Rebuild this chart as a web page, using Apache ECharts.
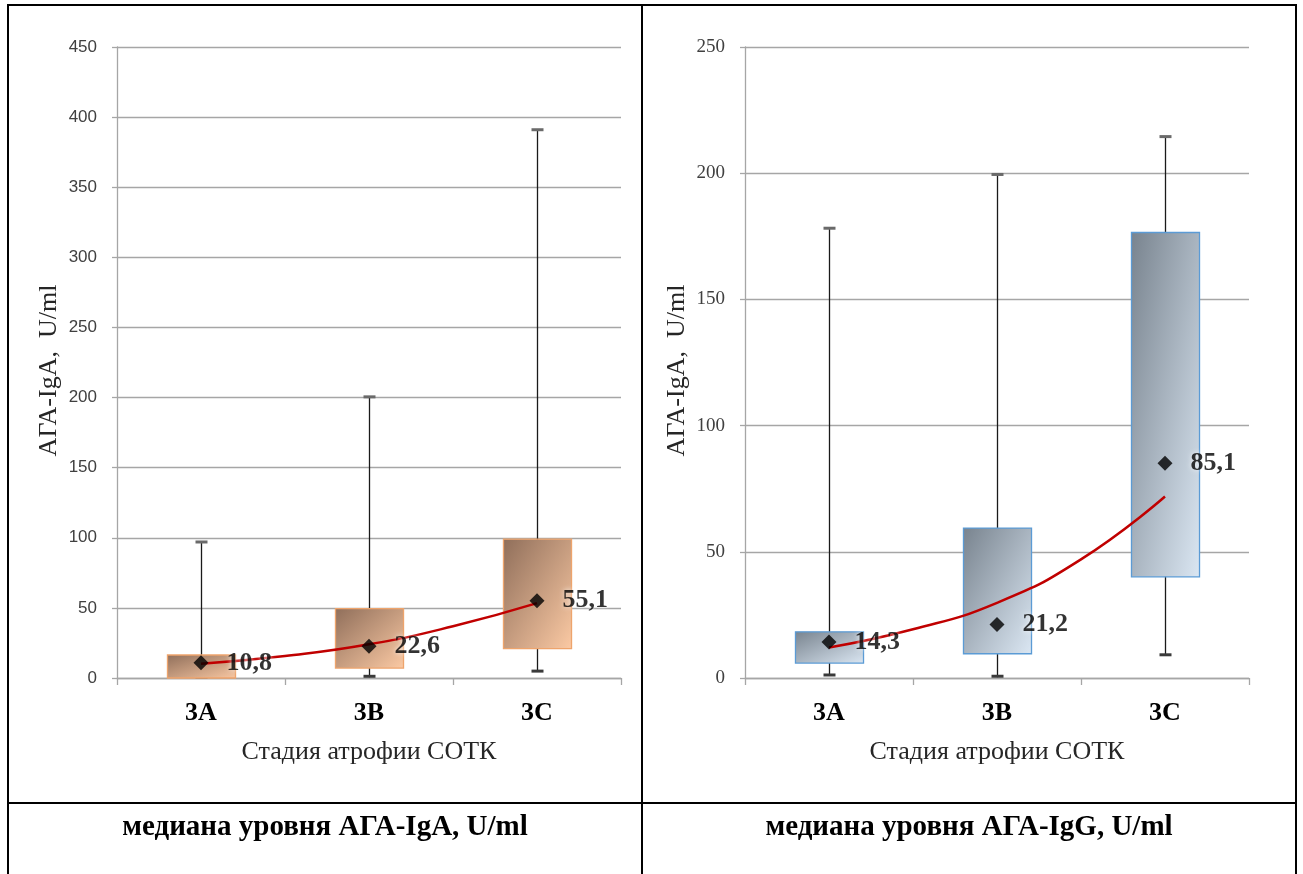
<!DOCTYPE html>
<html>
<head>
<meta charset="utf-8">
<script src="https://cdn.jsdelivr.net/npm/echarts@6/dist/echarts.min.js"></script>
<style>
  html, body { margin: 0; padding: 0; background: #fff; }
  #chart { width: 1303px; height: 874px; }
</style>
</head>
<body>
<div id="chart"></div>
<script>
// Stages of mucosal atrophy (x categories)
const stages = ['3A', '3B', '3C'];

// АГА-IgA panel: whisker ends, quartile box, median, trend curve
const igaMin    = [0,    0.5,   4.2];
const igaQ1     = [0,    7.1,   21.0];
const igaQ3     = [16.4, 49.5,  99.0];
const igaMax    = [97,   200.5, 391];
const igaMedian = [10.8, 22.6,  55.1];
const igaTrend  = [10.2, 15.7,  24.0, 36.9, 53.4];

// АГА-IgG panel
const iggMin    = [0.8,  0.3,   8.8];
const iggQ1     = [5.9,  9.6,   40.1];
const iggQ3     = [18.3, 59.4,  176.5];
const iggMax    = [178.2, 199.5, 214.5];
const iggMedian = [14.3, 21.2,  85.1];
const iggTrend  = [12.1, 19.3,  29.8, 47.0, 71.9];

// positions (in category units) where the trend curve is sampled
const trendPos = [0, 0.5, 1, 1.5, 2];

// value axis ranges
const igaAxis = { min: 0, max: 450, interval: 50 };
const iggAxis = { min: 0, max: 250, interval: 50 };

const captions = ['медиана уровня АГА-IgA, U/ml', 'медиана уровня АГА-IgG, U/ml'];
const xTitle = 'Стадия атрофии СОТК';
const yTitle = 'АГА-IgA,  U/ml';

const SERIF = '"Liberation Serif", "Times New Roman", serif';
const SANS = '"Liberation Sans", Arial, sans-serif';
const GRID_COLOR = '#a6a6a6';

function boxRows(mins, q1, q3, maxs) {
  return stages.map((_, i) => [i, mins[i], q1[i], q3[i], maxs[i]]);
}

// Diagonal fill that runs corner to corner in the box's own proportions
function diagonalFill(w, h, c0, c1) {
  const k = 2 / (h / w + w / h);
  return new echarts.graphic.LinearGradient(0, 0, k * h / w, k * w / h, [
    { offset: 0, color: c0 }, { offset: 1, color: c1 }
  ]);
}

function boxRenderer(c0, c1, stroke) {
  return function (params, api) {
    const i = api.value(0);
    const pMin = api.coord([i, api.value(1)]);
    const pQ1 = api.coord([i, api.value(2)]);
    const pQ3 = api.coord([i, api.value(3)]);
    const pMax = api.coord([i, api.value(4)]);
    const bw = api.size([1, 0])[0] * 0.405;
    const bh = Math.max(pQ1[1] - pQ3[1], 1);
    const cx = Math.round(pMin[0]) + 0.5;
    const cap = 12;
    return {
      type: 'group',
      children: [
        { type: 'line', shape: { x1: cx, y1: pMin[1], x2: cx, y2: pMax[1] },
          style: { stroke: '#1a1a1a', lineWidth: 1.3 } },
        { type: 'line', shape: { x1: cx - cap / 2, y1: pMax[1], x2: cx + cap / 2, y2: pMax[1] },
          style: { stroke: '#6a6a6a', lineWidth: 3 } },
        { type: 'line', shape: { x1: cx - cap / 2, y1: pMin[1] - 1, x2: cx + cap / 2, y2: pMin[1] - 1 },
          style: { stroke: '#3a3a3a', lineWidth: 3 } },
        { type: 'rect',
          shape: { x: cx - bw / 2, y: pQ3[1], width: bw, height: bh },
          style: { fill: diagonalFill(bw, bh, c0, c1), stroke: stroke, lineWidth: 1.3 } }
      ]
    };
  };
}

function catAxis(gridIndex) {
  return {
    type: 'category', gridIndex, data: stages, boundaryGap: true,
    axisLine: { onZero: false, lineStyle: { color: GRID_COLOR, width: 1.3 } },
    axisTick: { show: true, length: 7, lineStyle: { color: GRID_COLOR, width: 1.3 } },
    axisLabel: { fontFamily: SERIF, fontWeight: 'bold', fontSize: 26, color: '#000', margin: 22 },
    name: xTitle, nameLocation: 'middle', nameGap: 61,
    nameTextStyle: { fontFamily: SERIF, fontSize: 26, color: '#262626' }
  };
}

function trendAxis(gridIndex) {
  return { type: 'value', gridIndex, min: -0.5, max: 2.5, show: false };
}

function valAxis(gridIndex, range, labelFont, labelSize) {
  return {
    type: 'value', gridIndex, min: range.min, max: range.max, interval: range.interval,
    axisLine: { show: true, onZero: false, lineStyle: { color: GRID_COLOR, width: 1.3 } },
    axisTick: { show: true, length: 5, lineStyle: { color: GRID_COLOR, width: 1.3 } },
    splitLine: { lineStyle: { color: GRID_COLOR, width: 1.3 } },
    axisLabel: { fontFamily: labelFont, fontSize: labelSize, color: '#404040', margin: 20 },
    name: yTitle, nameLocation: 'middle', nameGap: 55, nameRotate: 90,
    nameTextStyle: { fontFamily: SERIF, fontSize: 26, color: '#262626', padding: [0, 16, 0, 0] }
  };
}

function medianSeries(xi, yi, values) {
  return {
    type: 'scatter', xAxisIndex: xi, yAxisIndex: yi, z: 5,
    data: values, symbol: 'diamond', symbolSize: 15,
    itemStyle: { color: '#000' },
    label: {
      show: true, position: 'right', distance: 18,
      formatter: p => String(p.value).replace('.', ','),
      fontFamily: SERIF, fontWeight: 'bold', fontSize: 26, color: '#000',
      textShadowColor: '#fff', textShadowBlur: 5
    }
  };
}

function trendSeries(xi, yi, values) {
  return {
    type: 'line', xAxisIndex: xi, yAxisIndex: yi, z: 4, smooth: true,
    data: trendPos.map((x, k) => [x, values[k]]),
    showSymbol: false, lineStyle: { color: '#c00000', width: 2.5 }
  };
}

const chart = echarts.init(document.getElementById('chart'), null, { renderer: 'canvas' });

const line = (x1, y1, x2, y2) => ({
  type: 'line', shape: { x1, y1, x2, y2 }, style: { stroke: '#000', lineWidth: 2 }, silent: true
});

chart.setOption({
  animation: false,
  backgroundColor: '#fff',
  grid: [
    { left: 117, top: 47, width: 504, height: 631 },
    { left: 745, top: 47, width: 504, height: 631 }
  ],
  xAxis: [catAxis(0), catAxis(1), trendAxis(0), trendAxis(1)],
  yAxis: [
    valAxis(0, igaAxis, SANS, 17),
    valAxis(1, iggAxis, SERIF, 19)
  ],
  series: [
    { type: 'custom', xAxisIndex: 0, yAxisIndex: 0, z: 2,
      renderItem: boxRenderer('#8f6e5a', '#fccaa4', '#eea46c'),
      data: boxRows(igaMin, igaQ1, igaQ3, igaMax) },
    trendSeries(2, 0, igaTrend),
    medianSeries(0, 0, igaMedian),
    { type: 'custom', xAxisIndex: 1, yAxisIndex: 1, z: 2,
      renderItem: boxRenderer('#78838e', '#dce8f4', '#5b9bd5'),
      data: boxRows(iggMin, iggQ1, iggQ3, iggMax) },
    trendSeries(3, 1, iggTrend),
    medianSeries(1, 1, iggMedian)
  ],
  graphic: [
    line(8, 5, 1296, 5),
    line(8, 4, 8, 874),
    line(642, 4, 642, 874),
    line(1296, 4, 1296, 874),
    line(8, 803, 1296, 803),
    { type: 'text', x: 325, y: 828,
      style: { text: captions[0], fontFamily: SERIF, fontWeight: 'bold', fontSize: 29,
               fill: '#000', align: 'center', verticalAlign: 'middle' } },
    { type: 'text', x: 969, y: 828,
      style: { text: captions[1], fontFamily: SERIF, fontWeight: 'bold', fontSize: 29,
               fill: '#000', align: 'center', verticalAlign: 'middle' } }
  ]
});
</script>
</body>
</html>
